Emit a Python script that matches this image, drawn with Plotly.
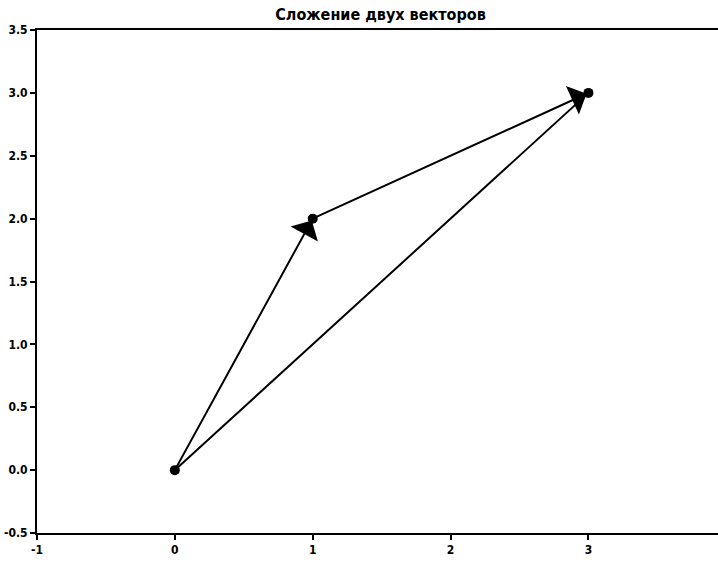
import plotly.graph_objects as go

# Data
points_x = [0, 1, 3]
points_y = [0, 2, 3]
# vectors: (start_x, start_y) -> (end_x, end_y)
vec_start_x = [0, 1, 0]
vec_start_y = [0, 2, 0]
vec_end_x = [1, 3, 3]
vec_end_y = [2, 3, 3]
vec_head = [True, True, False]
x_ticks = [-1, 0, 1, 2, 3]
y_ticks = [-0.5, 0.0, 0.5, 1.0, 1.5, 2.0, 2.5, 3.0, 3.5]
title_text = "Сложение двух векторов"

FONT = "Liberation Sans Narrow, DejaVu Sans Condensed, Arial Narrow, sans-serif"

fig = go.Figure()

fig.add_trace(go.Scatter(
    x=points_x, y=points_y, mode="markers",
    marker=dict(color="black", size=10),
    showlegend=False, hoverinfo="skip",
))

for sx, sy, ex, ey, head in zip(vec_start_x, vec_start_y, vec_end_x, vec_end_y, vec_head):
    fig.add_annotation(
        x=ex, y=ey, ax=sx, ay=sy,
        xref="x", yref="y", axref="x", ayref="y",
        text="", showarrow=True,
        arrowhead=1 if head else 0,
        arrowsize=2.6 if head else 1,
        arrowwidth=2,
        arrowcolor="black",
        standoff=2 if head else 0,
    )

fig.update_layout(
    width=718, height=569,
    margin=dict(l=37, r=0, t=30, b=36),
    paper_bgcolor="white", plot_bgcolor="white",
    title=dict(text=f"<b>{title_text}</b>", x=0.53, xanchor="center",
               y=0.985, yanchor="top",
               font=dict(family=FONT, size=16, color="black")),
    font=dict(family=FONT, size=12, color="black"),
    xaxis=dict(range=[-1, 3.94], tickvals=x_ticks,
               ticktext=[f"<b>{v}</b>" for v in x_ticks],
               showgrid=False, zeroline=False,
               showline=True, linecolor="black", linewidth=2, mirror=True,
               ticks="outside", ticklen=5, tickcolor="black", tickwidth=1.5),
    yaxis=dict(range=[-0.5, 3.5], tickvals=y_ticks,
               ticktext=[f"<b>{v:.1f}</b>" for v in y_ticks],
               showgrid=False, zeroline=False,
               showline=True, linecolor="black", linewidth=2, mirror=False,
               ticks="outside", ticklen=5, tickcolor="black", tickwidth=1.5),
)

fig.write_html("out.html")
